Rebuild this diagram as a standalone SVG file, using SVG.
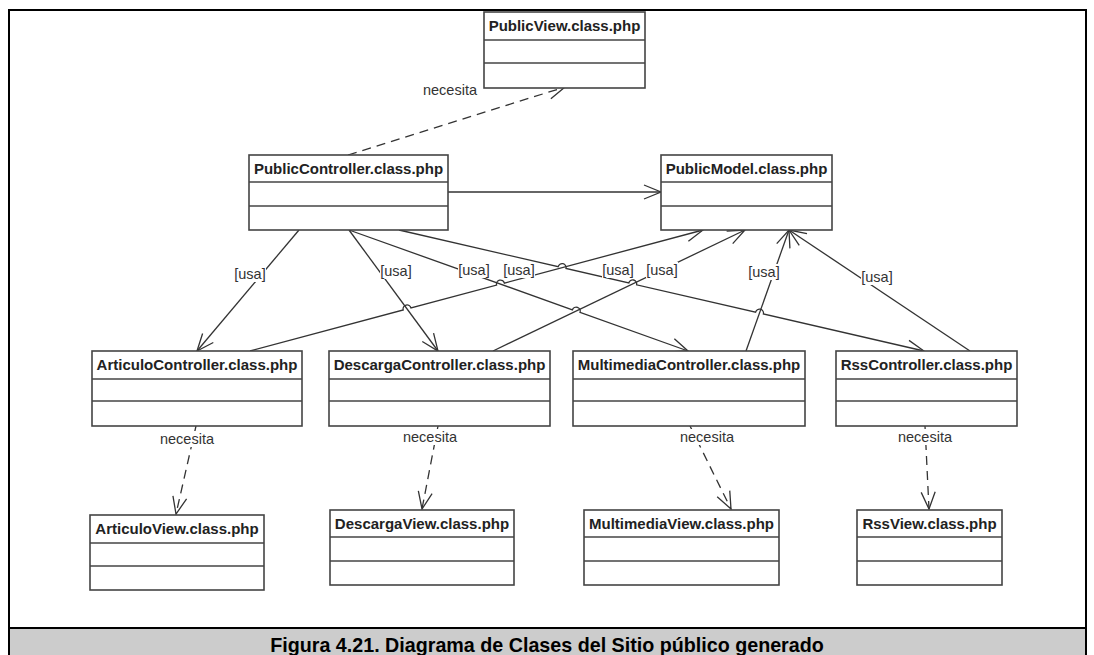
<svg xmlns="http://www.w3.org/2000/svg" width="1094" height="655" viewBox="0 0 1094 655">
<style>
.box{fill:#fff;stroke:#444;stroke-width:1.6}
.div{stroke:#444;stroke-width:1.6}
.hd{font-family:"Liberation Sans",Arial,sans-serif;font-size:15px;font-weight:bold;fill:#222;text-anchor:middle}
.ln{fill:none;stroke:#333;stroke-width:1.3}
.dash{fill:none;stroke:#333;stroke-width:1.3;stroke-dasharray:9 6}
.lb{font-family:"Liberation Sans",Arial,sans-serif;font-size:14.5px;fill:#333;text-anchor:middle}
.lbg{fill:#fff}
.cap{font-family:"Liberation Sans",Arial,sans-serif;font-size:19.7px;font-weight:bold;fill:#000;text-anchor:middle}
</style>
<defs>
<marker id="arr" markerUnits="userSpaceOnUse" markerWidth="24" markerHeight="24" viewBox="-20 -12 24 24" refX="0" refY="0" orient="auto" overflow="visible">
<path d="M-17,-7 L0,0 L-17,7" fill="none" stroke="#333" stroke-width="1.3"/>
</marker>
</defs>
<rect x="0" y="0" width="1094" height="655" fill="#fff"/>
<rect x="9" y="10" width="1077" height="650" fill="none" stroke="#000" stroke-width="2"/>
<rect x="9" y="628" width="1077" height="30" fill="#cccccc" stroke="#000" stroke-width="2"/>
<text class="cap" x="547" y="652">Figura 4.21. Diagrama de Clases del Sitio público generado</text>

<g id="connectors">
<path class="dash" d="M348,155 L565,87" marker-end="url(#arr)"/>
<path class="ln" d="M448,192 L661,192" marker-end="url(#arr)"/>
<path class="ln" d="M299,230 L197,351" marker-end="url(#arr)"/>
<path class="ln" d="M349,230 L438,351" marker-end="url(#arr)"/>
<path class="ln" d="M349,230 L572.4,309.8 A4,4 0 0 1 580,312.4 L688,351" marker-end="url(#arr)"/>
<path class="ln" d="M399,230 L558.2,266.7 A4,4 0 0 1 566,268.5 L628.8,283 A4,4 0 0 1 636.6,284.8 L755.6,312.2 A4,4 0 0 1 763.4,314 L924,351" marker-end="url(#arr)"/>
<path class="ln" d="M250,351 L403.2,310 A4,4 0 0 1 411,308 L496.6,285.1 A4,4 0 0 1 504.4,283.1 L703,230" marker-end="url(#arr)"/>
<path class="ln" d="M493,351 L745,230" marker-end="url(#arr)"/>
<path class="ln" d="M746,351 L789,230" marker-end="url(#arr)"/>
<path class="ln" d="M970,351 L789,230" marker-end="url(#arr)"/>
<path class="dash" d="M196,426 L176,514" marker-end="url(#arr)"/>
<path class="dash" d="M438,426 L422,509" marker-end="url(#arr)"/>
<path class="dash" d="M690,426 L731,509" marker-end="url(#arr)"/>
<path class="dash" d="M925,426 L929,509" marker-end="url(#arr)"/>

<text class="lb" x="450" y="95">necesita</text>
<rect class="lbg" x="234" y="266" width="32" height="16"/><text class="lb" x="250" y="279">[usa]</text>
<rect class="lbg" x="380" y="263" width="32" height="16"/><text class="lb" x="396" y="276">[usa]</text>
<rect class="lbg" x="458" y="262" width="32" height="16"/><text class="lb" x="474" y="275">[usa]</text>
<rect class="lbg" x="503" y="262" width="32" height="16"/><text class="lb" x="519" y="275">[usa]</text>
<rect class="lbg" x="602" y="262" width="32" height="16"/><text class="lb" x="618" y="275">[usa]</text>
<rect class="lbg" x="646" y="262" width="32" height="16"/><text class="lb" x="662" y="275">[usa]</text>
<rect class="lbg" x="748" y="264" width="32" height="16"/><text class="lb" x="764" y="277">[usa]</text>
<rect class="lbg" x="861" y="269" width="32" height="16"/><text class="lb" x="877" y="282">[usa]</text>
<rect class="lbg" x="160" y="431" width="55" height="16"/><text class="lb" x="187" y="444">necesita</text>
<rect class="lbg" x="403" y="429" width="55" height="16"/><text class="lb" x="430" y="442">necesita</text>
<rect class="lbg" x="680" y="429" width="55" height="16"/><text class="lb" x="707" y="442">necesita</text>
<rect class="lbg" x="898" y="429" width="55" height="16"/><text class="lb" x="925" y="442">necesita</text>
</g>

<g id="PublicView">
<rect class="box" x="484" y="12" width="161" height="76"/>
<line class="div" x1="484" y1="40" x2="645" y2="40"/><line class="div" x1="484" y1="63" x2="645" y2="63"/>
<text class="hd" x="564.5" y="31">PublicView.class.php</text>
</g>
<g id="PublicController">
<rect class="box" x="249" y="155" width="199" height="75"/>
<line class="div" x1="249" y1="182" x2="448" y2="182"/><line class="div" x1="249" y1="206" x2="448" y2="206"/>
<text class="hd" x="348.5" y="174">PublicController.class.php</text>
</g>
<g id="PublicModel">
<rect class="box" x="661" y="155" width="171" height="75"/>
<line class="div" x1="661" y1="182" x2="832" y2="182"/><line class="div" x1="661" y1="206" x2="832" y2="206"/>
<text class="hd" x="746.5" y="174">PublicModel.class.php</text>
</g>
<g id="ArticuloController">
<rect class="box" x="92" y="351" width="210" height="75"/>
<line class="div" x1="92" y1="379" x2="302" y2="379"/><line class="div" x1="92" y1="401" x2="302" y2="401"/>
<text class="hd" x="197" y="370">ArticuloController.class.php</text>
</g>
<g id="DescargaController">
<rect class="box" x="329" y="351" width="221" height="75"/>
<line class="div" x1="329" y1="379" x2="550" y2="379"/><line class="div" x1="329" y1="401" x2="550" y2="401"/>
<text class="hd" x="439.5" y="370">DescargaController.class.php</text>
</g>
<g id="MultimediaController">
<rect class="box" x="573" y="351" width="232" height="75"/>
<line class="div" x1="573" y1="379" x2="805" y2="379"/><line class="div" x1="573" y1="401" x2="805" y2="401"/>
<text class="hd" x="689" y="370">MultimediaController.class.php</text>
</g>
<g id="RssController">
<rect class="box" x="836" y="351" width="181" height="75"/>
<line class="div" x1="836" y1="379" x2="1017" y2="379"/><line class="div" x1="836" y1="401" x2="1017" y2="401"/>
<text class="hd" x="926.5" y="370">RssController.class.php</text>
</g>
<g id="ArticuloView">
<rect class="box" x="90" y="515" width="174" height="75"/>
<line class="div" x1="90" y1="543" x2="264" y2="543"/><line class="div" x1="90" y1="566" x2="264" y2="566"/>
<text class="hd" x="177" y="534">ArticuloView.class.php</text>
</g>
<g id="DescargaView">
<rect class="box" x="330" y="510" width="184" height="75"/>
<line class="div" x1="330" y1="537" x2="514" y2="537"/><line class="div" x1="330" y1="561" x2="514" y2="561"/>
<text class="hd" x="422" y="529">DescargaView.class.php</text>
</g>
<g id="MultimediaView">
<rect class="box" x="584" y="510" width="195" height="75"/>
<line class="div" x1="584" y1="537" x2="779" y2="537"/><line class="div" x1="584" y1="561" x2="779" y2="561"/>
<text class="hd" x="681.5" y="529">MultimediaView.class.php</text>
</g>
<g id="RssView">
<rect class="box" x="857" y="510" width="145" height="75"/>
<line class="div" x1="857" y1="537" x2="1002" y2="537"/><line class="div" x1="857" y1="561" x2="1002" y2="561"/>
<text class="hd" x="929.5" y="529">RssView.class.php</text>
</g>
</svg>
